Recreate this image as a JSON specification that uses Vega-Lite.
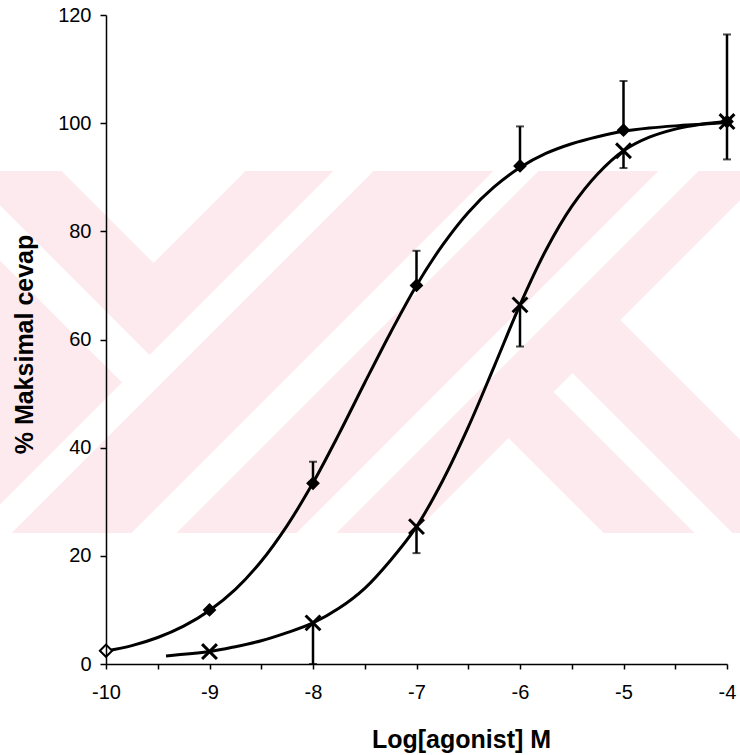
{
  "$schema": "https://vega.github.io/schema/vega-lite/v6.json",
  "width": 621,
  "height": 649,
  "autosize": "none",
  "padding": {"left": 106, "top": 15, "right": 13, "bottom": 91},
  "background": "white",
  "config": {"view": {"stroke": null}, "font": "Liberation Sans"},
  "datasets": {
    "band": [{"x": -11.1, "x2": -3.8, "y": 24.22, "y2": 91.16}],
    "watermark": [
      {"shape": "V", "y": 91.16, "x": -10.430, "x2": -8.652},
      {"shape": "V", "y": 74.15, "x": -9.541, "x2": -9.541},
      {"shape": "L", "y": 91.16, "x": -11.889, "x2": -11.357},
      {"shape": "L", "y": 57.14, "x": -10.111, "x2": -9.580},
      {"shape": "L", "y": 52.05, "x": -9.845, "x2": -9.845},
      {"shape": "S1", "y": 91.16, "x": -7.802, "x2": -7.415},
      {"shape": "S1", "y": 24.22, "x": -11.300, "x2": -10.913},
      {"shape": "S2", "y": 91.16, "x": -6.256, "x2": -5.821},
      {"shape": "S2", "y": 24.22, "x": -9.754, "x2": -9.319},
      {"shape": "S3", "y": 91.16, "x": -4.662, "x2": -4.275},
      {"shape": "S3", "y": 24.22, "x": -8.159, "x2": -7.773},
      {"shape": "LT", "y": 89.31, "x": -3.686, "x2": -3.686},
      {"shape": "LT", "y": 63.61, "x": -5.029, "x2": -3.686},
      {"shape": "LT", "y": 37.91, "x": -3.686, "x2": -3.686},
      {"shape": "RS", "y": 53.81, "x": -5.493, "x2": -5.493},
      {"shape": "RS", "y": 50.30, "x": -5.676, "x2": -5.309},
      {"shape": "RS", "y": 24.22, "x": -4.314, "x2": -3.947},
      {"shape": "A", "y": 41.79, "x": -6.111, "x2": -6.111},
      {"shape": "A", "y": 24.22, "x": -7.029, "x2": -5.193}
    ],
    "curves": [
      {"series": "A", "x": -10, "y": 2.4}, {"series": "A", "x": -9.75, "y": 3.4},
      {"series": "A", "x": -9.5, "y": 4.9}, {"series": "A", "x": -9.25, "y": 7.0},
      {"series": "A", "x": -9, "y": 9.9}, {"series": "A", "x": -8.75, "y": 13.8},
      {"series": "A", "x": -8.5, "y": 19.0}, {"series": "A", "x": -8.25, "y": 25.6},
      {"series": "A", "x": -8, "y": 33.5}, {"series": "A", "x": -7.75, "y": 42.5},
      {"series": "A", "x": -7.5, "y": 52.0}, {"series": "A", "x": -7.25, "y": 61.3},
      {"series": "A", "x": -7, "y": 70.0}, {"series": "A", "x": -6.75, "y": 77.4},
      {"series": "A", "x": -6.5, "y": 83.5}, {"series": "A", "x": -6.25, "y": 88.2},
      {"series": "A", "x": -6, "y": 91.8}, {"series": "A", "x": -5.75, "y": 94.4},
      {"series": "A", "x": -5.5, "y": 96.2}, {"series": "A", "x": -5.25, "y": 97.5},
      {"series": "A", "x": -5, "y": 98.5}, {"series": "A", "x": -4.75, "y": 99.1},
      {"series": "A", "x": -4.5, "y": 99.5}, {"series": "A", "x": -4.25, "y": 99.8},
      {"series": "A", "x": -4, "y": 100.1},
      {"series": "B", "x": -9.42, "y": 1.5}, {"series": "B", "x": -9, "y": 2.3},
      {"series": "B", "x": -8.75, "y": 3.2}, {"series": "B", "x": -8.5, "y": 4.3},
      {"series": "B", "x": -8.25, "y": 5.8}, {"series": "B", "x": -8, "y": 7.6},
      {"series": "B", "x": -7.75, "y": 10.3}, {"series": "B", "x": -7.5, "y": 14.0},
      {"series": "B", "x": -7.25, "y": 19.2}, {"series": "B", "x": -7, "y": 25.4},
      {"series": "B", "x": -6.75, "y": 33.8}, {"series": "B", "x": -6.5, "y": 43.8},
      {"series": "B", "x": -6.25, "y": 55.0}, {"series": "B", "x": -6, "y": 66.4},
      {"series": "B", "x": -5.75, "y": 76.5}, {"series": "B", "x": -5.5, "y": 84.6},
      {"series": "B", "x": -5.25, "y": 90.6}, {"series": "B", "x": -5, "y": 94.9},
      {"series": "B", "x": -4.75, "y": 97.4}, {"series": "B", "x": -4.5, "y": 98.9},
      {"series": "B", "x": -4.25, "y": 99.8}, {"series": "B", "x": -4, "y": 100.3}
    ],
    "points": [
      {"series": "A", "x": -10, "y": 2.46}, {"series": "A", "x": -9, "y": 10.0},
      {"series": "A", "x": -8, "y": 33.4}, {"series": "A", "x": -7, "y": 70.0},
      {"series": "A", "x": -6, "y": 92.1}, {"series": "A", "x": -5, "y": 98.7},
      {"series": "A", "x": -4, "y": 100.3},
      {"series": "B", "x": -9, "y": 2.3}, {"series": "B", "x": -8, "y": 7.6},
      {"series": "B", "x": -7, "y": 25.4}, {"series": "B", "x": -6, "y": 66.4},
      {"series": "B", "x": -5, "y": 94.9}, {"series": "B", "x": -4, "y": 100.3}
    ],
    "errors": [
      {"series": "A", "x": -8, "y": 37.4, "y2": 33.4},
      {"series": "A", "x": -7, "y": 76.4, "y2": 70.0},
      {"series": "A", "x": -6, "y": 99.4, "y2": 92.1},
      {"series": "A", "x": -5, "y": 107.8, "y2": 98.7},
      {"series": "A", "x": -4, "y": 116.4, "y2": 100.3},
      {"series": "B", "x": -8, "y": 0, "y2": 7.6},
      {"series": "B", "x": -7, "y": 20.5, "y2": 25.4},
      {"series": "B", "x": -6, "y": 58.7, "y2": 66.4},
      {"series": "B", "x": -5, "y": 91.7, "y2": 94.9},
      {"series": "B", "x": -4, "y": 93.3, "y2": 100.3}
    ]
  },
  "encoding": {
    "x": {
      "field": "x", "type": "quantitative",
      "scale": {"domain": [-10, -4], "nice": false, "zero": false},
      "axis": {
        "values": [-10, -9.5, -9, -8.5, -8, -7.5, -7, -6.5, -6, -5.5, -5, -4.5, -4],
        "labelExpr": "datum.value % 1 == 0 ? '-' + abs(datum.value) : ''",
        "title": "Log[agonist] M", "grid": false, "zindex": 1,
        "domainColor": "black", "domainWidth": 1.5,
        "tickColor": "black", "tickSize": 5, "tickWidth": 1.5,
        "labelColor": "black", "labelFont": "Liberation Sans", "labelFontSize": 20,
        "labelPadding": 13, "labelFlush": false, "labelOverlap": false,
        "titleFont": "Liberation Sans", "titleFontSize": 25, "titleFontWeight": "bold",
        "titleColor": "black", "titleX": 355, "titleY": 83, "titleBaseline": "alphabetic", "titleAlign": "center"
      }
    },
    "y": {
      "field": "y", "type": "quantitative",
      "scale": {"domain": [0, 120], "nice": false, "zero": false},
      "axis": {
        "values": [0, 20, 40, 60, 80, 100, 120],
        "title": "% Maksimal cevap", "grid": false, "zindex": 1,
        "domainColor": "black", "domainWidth": 1.5,
        "tickColor": "black", "tickSize": 6, "tickWidth": 1.5,
        "labelColor": "black", "labelFont": "Liberation Sans", "labelFontSize": 20,
        "labelPadding": 9,
        "titleFont": "Liberation Sans", "titleFontSize": 25, "titleFontWeight": "bold",
        "titleColor": "black", "titleX": -82, "titleY": 329, "titleAngle": 270,
        "titleBaseline": "middle", "titleAlign": "center"
      }
    }
  },
  "layer": [
    {
      "data": {"name": "band"},
      "mark": {"type": "rect", "color": "#fdeaee", "clip": false},
      "encoding": {"x2": {"field": "x2"}, "y2": {"field": "y2"}}
    },
    {
      "data": {"name": "watermark"},
      "mark": {"type": "area", "orient": "horizontal", "color": "white", "clip": false},
      "encoding": {
        "x": {"field": "x", "type": "quantitative", "stack": null},
        "x2": {"field": "x2"},
        "detail": {"field": "shape"}
      }
    },
    {
      "data": {"name": "curves"},
      "mark": {"type": "line", "color": "black", "strokeWidth": 3, "interpolate": "catmull-rom"},
      "encoding": {"detail": {"field": "series"}}
    },
    {
      "data": {"name": "errors"},
      "mark": {"type": "rule", "color": "black", "strokeWidth": 2.5},
      "encoding": {"y2": {"field": "y2"}}
    },
    {
      "data": {"name": "errors"},
      "mark": {"type": "tick", "orient": "horizontal", "color": "black", "size": 8, "thickness": 2}
    },
    {
      "data": {"name": "points"},
      "transform": [{"filter": "datum.series == 'A'"}],
      "mark": {"type": "point", "shape": "diamond", "filled": true, "color": "black", "size": 190, "opacity": 1}
    },
    {
      "data": {"name": "points"},
      "transform": [{"filter": "datum.series == 'A' && datum.x == -10"}],
      "mark": {"type": "point", "shape": "diamond", "filled": true, "fill": "white", "stroke": "black", "strokeWidth": 2, "size": 150, "opacity": 1}
    },
    {
      "data": {"name": "points"},
      "transform": [{"filter": "datum.series == 'B'"}],
      "mark": {"type": "point", "shape": "M-1,-1L1,1M-1,1L1,-1", "filled": false, "color": "black", "strokeWidth": 3, "size": 220, "opacity": 1}
    }
  ]
}
